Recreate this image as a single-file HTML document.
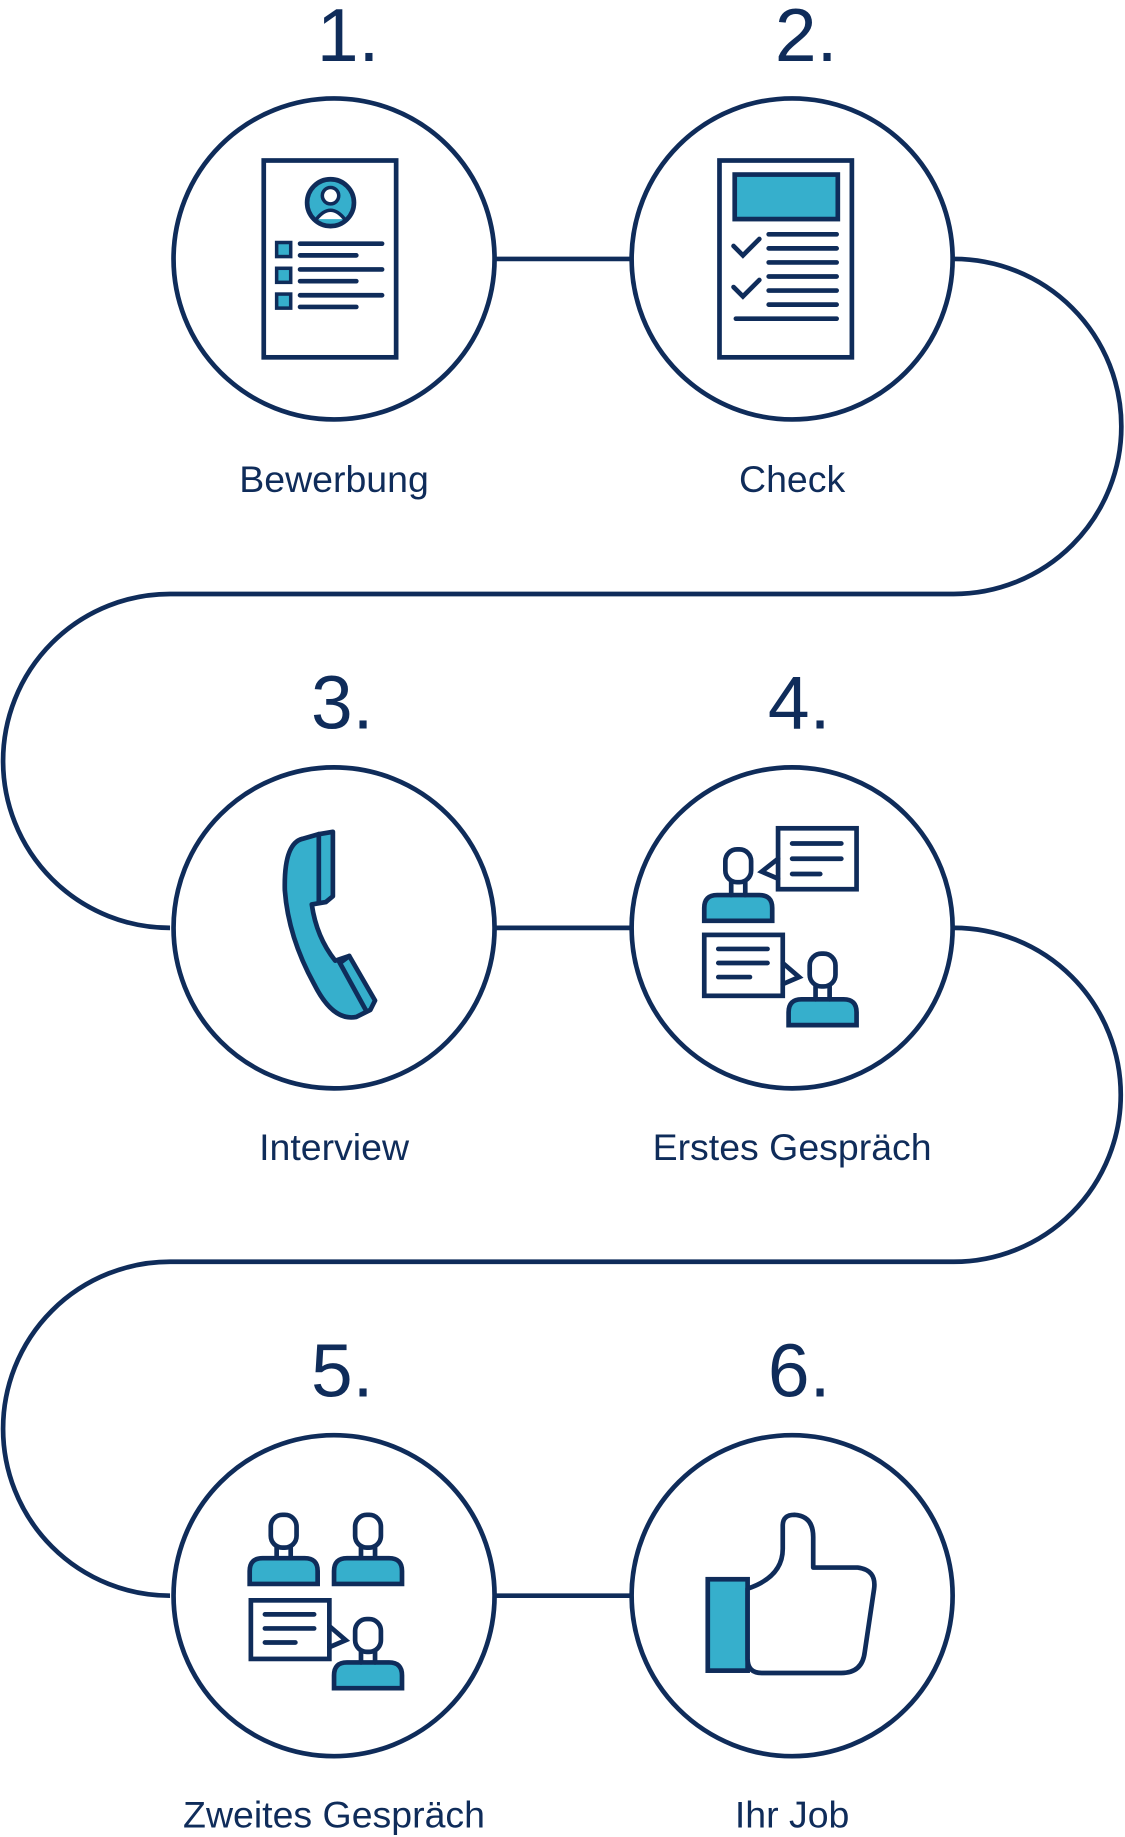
<!DOCTYPE html>
<html><head><meta charset="utf-8"><style>
html,body{margin:0;padding:0;background:#fff;}
svg{display:block}
text{font-family:"Liberation Sans",sans-serif;fill:#0f2c5a}
.n{font-size:64px;text-anchor:middle}
.l{font-size:32px;text-anchor:middle}
</style></head><body>
<svg width="1125" height="1837" viewBox="0 0 960 1568" xmlns="http://www.w3.org/2000/svg">
<g fill="none" stroke="#0f2c5a" stroke-width="4">
<path d="M422 221H539"/>
<path d="M814 221A142 142 0 0 1 814 507H145A142 142 0 0 0 145 792"/>
<path d="M422 792H539"/>
<path d="M814 792A142 142 0 0 1 814 1077H145A142 142 0 0 0 145 1362"/>
<path d="M422 1362H539"/>
<circle cx="285" cy="221" r="137"/><circle cx="676" cy="221" r="137"/>
<circle cx="285" cy="792" r="137"/><circle cx="676" cy="792" r="137"/>
<circle cx="285" cy="1362" r="137"/><circle cx="676" cy="1362" r="137"/>
</g>
<text class="n" x="297" y="52">1.</text><text class="n" x="688" y="52">2.</text>
<text class="n" x="292" y="622">3.</text><text class="n" x="682" y="622">4.</text>
<text class="n" x="292" y="1192">5.</text><text class="n" x="682" y="1192">6.</text>
<text class="l" x="285" y="420">Bewerbung</text><text class="l" x="676" y="420">Check</text>
<text class="l" x="285" y="990">Interview</text><text class="l" x="676" y="990">Erstes Gespräch</text>
<text class="l" x="285" y="1560">Zweites Gespräch</text><text class="l" x="676" y="1560">Ihr Job</text>
<g stroke="#0f2c5a" stroke-width="4" fill="none" stroke-linecap="round">
<rect x="225" y="137" width="113" height="168" fill="#fff"/>
<circle cx="282" cy="173" r="20" fill="#36afcc"/>
<circle cx="282" cy="167" r="7" fill="#fff" stroke-width="3"/>
<path d="M270 187Q282 172 294 187" fill="#fff" stroke-width="3"/>
<rect x="236" y="207" width="12" height="12" fill="#36afcc" stroke-width="3"/>
<rect x="236" y="229" width="12" height="12" fill="#36afcc" stroke-width="3"/>
<rect x="236" y="251" width="12" height="12" fill="#36afcc" stroke-width="3"/>
<path d="M256 208H326M256 218H304M256 230H326M256 240H304M256 252H326M256 262H304"/>
<rect x="614" y="137" width="113" height="168" fill="#fff"/>
<rect x="627" y="149" width="88" height="38" fill="#36afcc"/>
<path d="M626 210L634 218L648 204M626 245L634 253L648 239"/>
<path d="M656 200H714M656 212H714M656 224H714M656 236H714M656 248H714M656 260H714M628 272H714"/>
<path d="M272 712L284 710V765L278 770 266 772Q270 800 286 820L298 816 320 854 316 862 304 868Q284 872 268 840Q246 800 243 760Q242 720 258 716Z" fill="#36afcc" stroke-linejoin="round"/>
<path d="M272 712V770M298 816L290 822 312 862" />
<rect x="664" y="707" width="67" height="52" fill="#fff"/>
<path d="M664 733L650 744 664 750"/>
<path d="M676 720H718M676 733H718M676 746H700"/>
<rect x="619" y="725" width="22" height="28" rx="10" fill="#fff"/>
<path d="M601 786V775Q601 764 612 764H648Q659 764 659 775V786Z" fill="#36afcc"/>
<path d="M624 753V764M636 753V764"/>
<rect x="601" y="798" width="67" height="52" fill="#fff"/>
<path d="M668 822L682 834 668 840"/>
<path d="M613 810H655M613 822H655M613 834H640"/>
<rect x="691" y="814" width="22" height="28" rx="10" fill="#fff"/>
<path d="M673 875V864Q673 853 684 853H720Q731 853 731 864V875Z" fill="#36afcc"/>
<path d="M696 842V853M708 842V853"/>
<rect x="231" y="1293" width="22" height="28" rx="10" fill="#fff"/>
<path d="M213 1352V1341Q213 1330 224 1330H260Q271 1330 271 1341V1352Z" fill="#36afcc"/>
<path d="M236 1321V1330M248 1321V1330"/>
<rect x="303" y="1293" width="22" height="28" rx="10" fill="#fff"/>
<path d="M285 1352V1341Q285 1330 296 1330H332Q343 1330 343 1341V1352Z" fill="#36afcc"/>
<path d="M308 1321V1330M320 1321V1330"/>
<rect x="214" y="1366" width="67" height="50" fill="#fff"/>
<path d="M281 1388L295 1400 281 1406"/>
<path d="M226 1378H268M226 1390H268M226 1402H252"/>
<rect x="303" y="1382" width="22" height="28" rx="10" fill="#fff"/>
<path d="M285 1441V1430Q285 1419 296 1419H332Q343 1419 343 1430V1441Z" fill="#36afcc"/>
<path d="M308 1410V1419M320 1410V1419"/>
<rect x="604" y="1348" width="34" height="78" fill="#36afcc"/>
<path d="M638 1356Q668 1346 668 1322V1302Q668 1293 678 1293Q694 1294 694 1312V1338H732Q748 1340 746 1356L738 1410Q736 1428 718 1428H650Q638 1428 638 1416Z" fill="#fff" stroke-linejoin="round"/>
</g>
</svg>
</body></html>
